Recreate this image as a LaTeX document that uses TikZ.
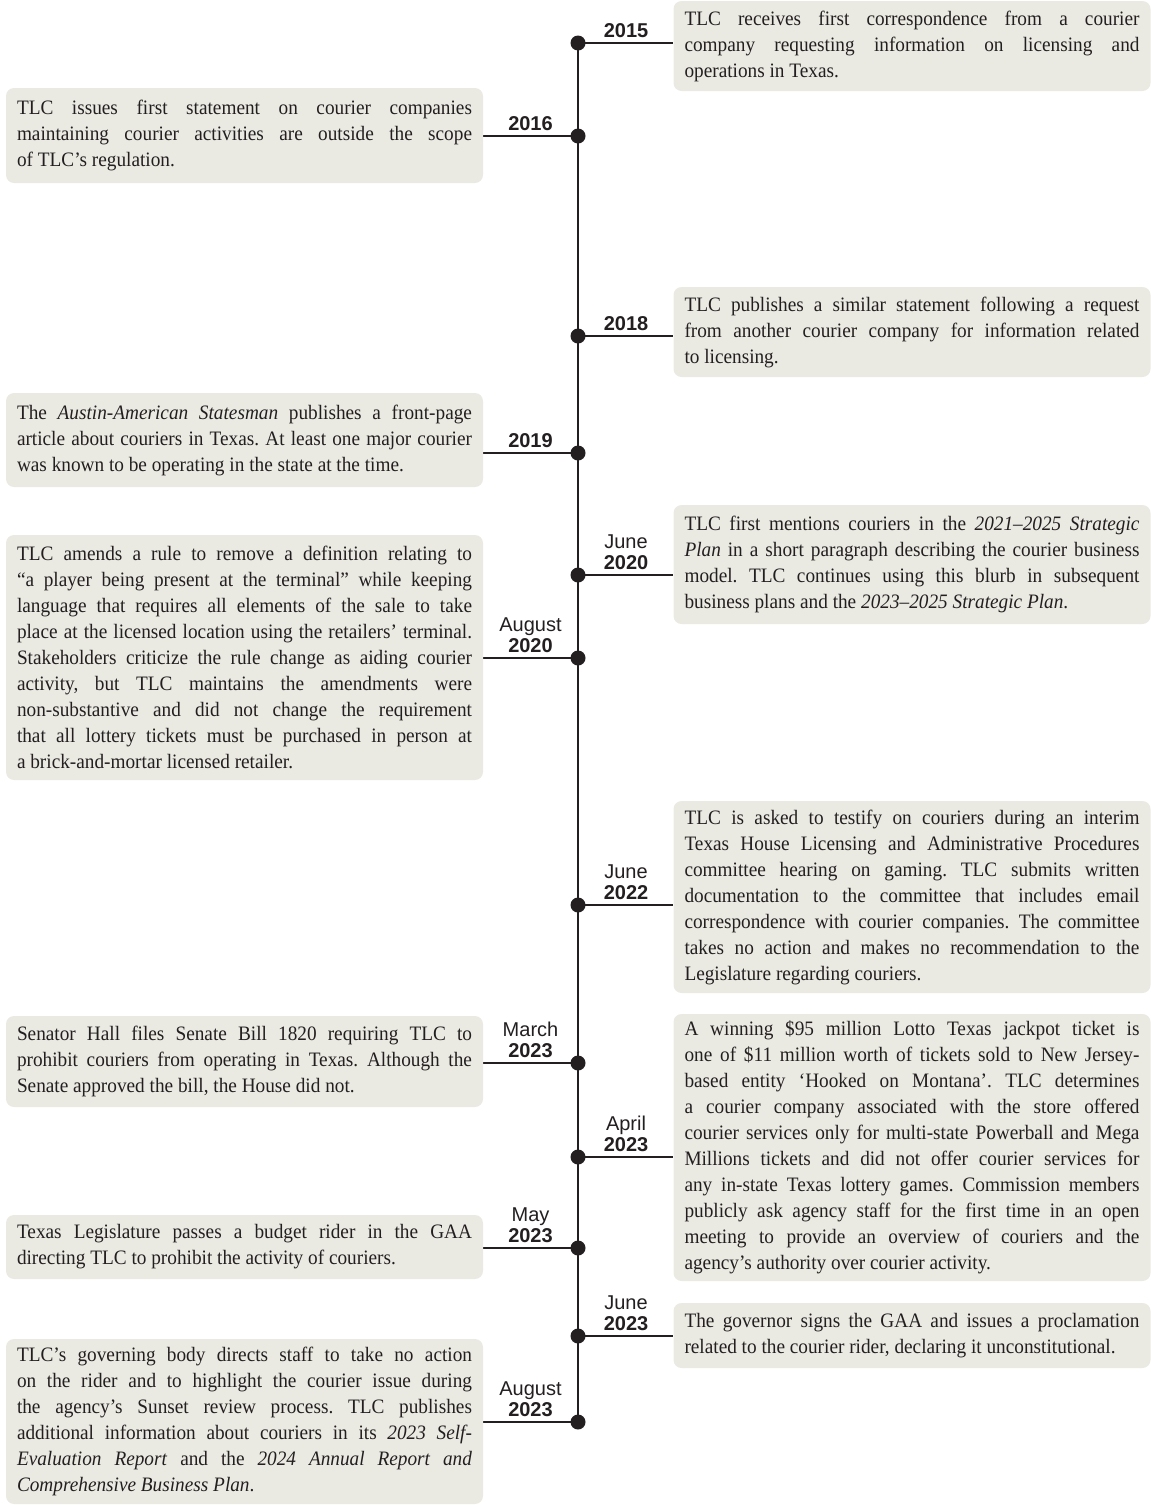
\documentclass[tikz,border=0pt]{standalone}
\usepackage{fontspec}
\setmainfont[FakeStretch=0.94]{Liberation Serif}
\newfontfamily\labelfont{Liberation Sans}
\usetikzlibrary{backgrounds}
\definecolor{boxfill}{RGB}{235,234,226}
\definecolor{ink}{RGB}{35,31,32}
\setlength{\parindent}{0pt}
\frenchspacing
\newcommand\evfont{\fontsize{20.5pt}{26pt}\selectfont\frenchspacing\hyphenpenalty=10000\exhyphenpenalty=10000\tolerance=10000\hbadness=10000}
\newcommand\lblfont{\labelfont\fontsize{20pt}{21pt}\selectfont}
\tikzset{
  evbox/.style={fill=boxfill, rounded corners=8pt, inner xsep=11pt, inner ysep=0pt,
    text width=455pt, minimum width=477pt, align=justify, font=\evfont, text=ink},
  evdot/.style={circle, fill=ink, inner sep=0pt, minimum size=15pt},
  lbl/.style={anchor=south, inner sep=0pt, font=\lblfont, align=center, text=ink},
  conn/.style={draw=ink, line width=1.3pt}
}
\begin{document}
\begin{tikzpicture}[x=1pt,y=-1pt]
\useasboundingbox (0,0) rectangle (1151,1505);

% dots
\node[evdot] (d2015) at (578,43) {};
\node[evdot] (d2016) at (578,136) {};
\node[evdot] (d2018) at (578,336) {};
\node[evdot] (d2019) at (578,453) {};
\node[evdot] (d2020a) at (578,575) {};
\node[evdot] (d2020b) at (578,658) {};
\node[evdot] (d2022) at (578,905) {};
\node[evdot] (d2023a) at (578,1063) {};
\node[evdot] (d2023b) at (578,1157) {};
\node[evdot] (d2023c) at (578,1248) {};
\node[evdot] (d2023d) at (578,1336) {};
\node[evdot] (d2023e) at (578,1422) {};

% boxes
\node[evbox, minimum height=90pt] (b2015) at (912,46) {TLC receives first correspondence from a courier\linebreak company requesting information on licensing and\linebreak operations in Texas.};
\node[evbox, minimum height=95pt] (b2016) at (244.5,135.5) {TLC issues first statement on courier companies\linebreak maintaining courier activities are outside the scope\linebreak of TLC’s regulation.};
\node[evbox, minimum height=90pt] (b2018) at (912,332) {TLC publishes a similar statement following a request\linebreak from another courier company for information related\linebreak to licensing.};
\node[evbox, minimum height=94pt] (b2019) at (244.5,440) {The \textit{Austin-American Statesman} publishes a front-page\linebreak article about couriers in Texas. At least one major courier\linebreak was known to be operating in the state at the time.};
\node[evbox, minimum height=119pt] (b2020a) at (912,564.5) {TLC first mentions couriers in the \textit{2021–2025 Strategic}\linebreak \textit{Plan} in a short paragraph describing the courier business\linebreak model. TLC continues using this blurb in subsequent\linebreak business plans and the \textit{2023–2025 Strategic Plan}.};
\node[evbox, minimum height=245pt] (b2020b) at (244.5,657.5) {TLC amends a rule to remove a definition relating to\linebreak “a player being present at the terminal” while keeping\linebreak language that requires all elements of the sale to take\linebreak place at the licensed location using the retailers’ terminal.\linebreak Stakeholders criticize the rule change as aiding courier\linebreak activity, but TLC maintains the amendments were\linebreak non-substantive and did not change the requirement\linebreak that all lottery tickets must be purchased in person at\linebreak a brick-and-mortar licensed retailer.};
\node[evbox, minimum height=192pt] (b2022) at (912,897) {TLC is asked to testify on couriers during an interim\linebreak Texas House Licensing and Administrative Procedures\linebreak committee hearing on gaming. TLC submits written\linebreak documentation to the committee that includes email\linebreak correspondence with courier companies. The committee\linebreak takes no action and makes no recommendation to the\linebreak Legislature regarding couriers.};
\node[evbox, minimum height=91pt] (b2023a) at (244.5,1061.5) {Senator Hall files Senate Bill 1820 requiring TLC to\linebreak prohibit couriers from operating in Texas. Although the\linebreak Senate approved the bill, the House did not.};
\node[evbox, minimum height=267pt] (b2023b) at (912,1147.5) {A winning \$95 million Lotto Texas jackpot ticket is\linebreak one of \$11 million worth of tickets sold to New Jersey-\linebreak based entity ‘Hooked on Montana’. TLC determines\linebreak a courier company associated with the store offered\linebreak courier services only for multi-state Powerball and Mega\linebreak Millions tickets and did not offer courier services for\linebreak any in-state Texas lottery games. Commission members\linebreak publicly ask agency staff for the first time in an open\linebreak meeting to provide an overview of couriers and the\linebreak agency’s authority over courier activity.};
\node[evbox, minimum height=64pt] (b2023c) at (244.5,1247) {Texas Legislature passes a budget rider in the GAA\linebreak directing TLC to prohibit the activity of couriers.};
\node[evbox, minimum height=65pt] (b2023d) at (912,1335.5) {The governor signs the GAA and issues a proclamation\linebreak related to the courier rider, declaring it unconstitutional.};
\node[evbox, minimum height=165pt] (b2023e) at (244.5,1421.5) {TLC’s governing body directs staff to take no action\linebreak on the rider and to highlight the courier issue during\linebreak the agency’s Sunset review process. TLC publishes\linebreak additional information about couriers in its \textit{2023 Self-}\linebreak \textit{Evaluation Report} and the \textit{2024 Annual Report and}\linebreak \textit{Comprehensive Business Plan}.};

% labels
\node[lbl] (l2015) at (626,37.5) {\textbf{2015}};
\node[lbl] (l2016) at (530.5,130.5) {\textbf{2016}};
\node[lbl] (l2018) at (626,330.5) {\textbf{2018}};
\node[lbl] (l2019) at (530.5,447.5) {\textbf{2019}};
\node[lbl] (l2020a) at (626,569.5) {June\\\textbf{2020}};
\node[lbl] (l2020b) at (530.5,652.5) {August\\\textbf{2020}};
\node[lbl] (l2022) at (626,899.5) {June\\\textbf{2022}};
\node[lbl] (l2023a) at (530.5,1057.5) {March\\\textbf{2023}};
\node[lbl] (l2023b) at (626,1151.5) {April\\\textbf{2023}};
\node[lbl] (l2023c) at (530.5,1242.5) {May\\\textbf{2023}};
\node[lbl] (l2023d) at (626,1330.5) {June\\\textbf{2023}};
\node[lbl] (l2023e) at (530.5,1416.5) {August\\\textbf{2023}};

\begin{pgfonlayer}{background}
\draw[conn] (d2015.center) -- (d2023e.center);
\draw[conn] (d2015.center) -- (d2015.center -| b2015.west);
\draw[conn] (d2016.center) -- (d2016.center -| b2016.east);
\draw[conn] (d2018.center) -- (d2018.center -| b2018.west);
\draw[conn] (d2019.center) -- (d2019.center -| b2019.east);
\draw[conn] (d2020a.center) -- (d2020a.center -| b2020a.west);
\draw[conn] (d2020b.center) -- (d2020b.center -| b2020b.east);
\draw[conn] (d2022.center) -- (d2022.center -| b2022.west);
\draw[conn] (d2023a.center) -- (d2023a.center -| b2023a.east);
\draw[conn] (d2023b.center) -- (d2023b.center -| b2023b.west);
\draw[conn] (d2023c.center) -- (d2023c.center -| b2023c.east);
\draw[conn] (d2023d.center) -- (d2023d.center -| b2023d.west);
\draw[conn] (d2023e.center) -- (d2023e.center -| b2023e.east);
\end{pgfonlayer}
\end{tikzpicture}
\end{document}
